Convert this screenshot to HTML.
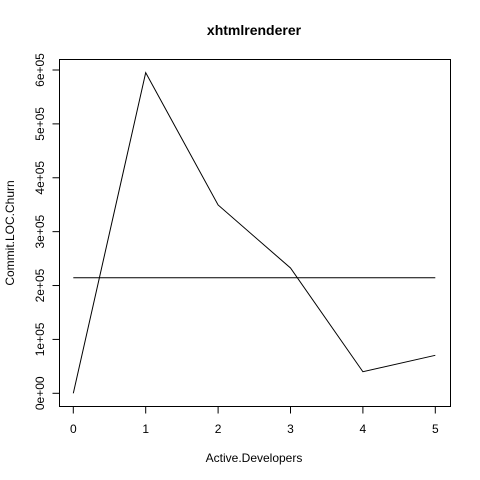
<!DOCTYPE html>
<html><head><meta charset="utf-8"><style>body{margin:0;background:#fff}svg{display:block}text{font-family:"Liberation Sans",sans-serif;fill:#000}</style></head>
<body>
<svg id="chart" width="480" height="480" xmlns="http://www.w3.org/2000/svg">
<rect width="480" height="480" fill="#fff"/>
<text x="254" y="35" text-anchor="middle" font-size="14" font-weight="bold">xhtmlrenderer</text>
<text x="254" y="462" text-anchor="middle" font-size="12">Active.Developers</text>
<text transform="translate(14,233) rotate(-90)" text-anchor="middle" font-size="12">Commit.LOC.Churn</text>
<rect x="59.5" y="59.5" width="391" height="347" fill="none" stroke="#000"/>
<g id="axes"></g>
<g id="marks"></g>
</svg>
<script>
const categories=[0,1,2,3,4,5];
const churn=[0,595000,349500,232500,40000,70500];
const yTicks=[0,100000,200000,300000,400000,500000,600000];
const yTickLabels=["0e+00","1e+05","2e+05","3e+05","4e+05","5e+05","6e+05"];
const meanValue=214500;
const NS="http://www.w3.org/2000/svg";
const xs=v=>73.3+v*72.4;
const ys=v=>393.3-v*(323.3/600000);
const axes=document.getElementById('axes'),marks=document.getElementById('marks');
function mk(tag,attrs,parent,txt){const e=document.createElementNS(NS,tag);for(const k in attrs)e.setAttribute(k,attrs[k]);if(txt!==undefined)e.textContent=txt;parent.appendChild(e);return e;}
categories.forEach(c=>{
 const t=mk('line',{x1:xs(c),x2:xs(c),y1:406.5,y2:413.5,stroke:'#000'},axes);
 
 
 const l=mk('text',{x:xs(c),y:433,'text-anchor':'middle','font-size':12},axes,String(c));
 
 
});
yTicks.forEach((v,i)=>{
 const t=mk('line',{x1:52.5,x2:59.5,y1:ys(v),y2:ys(v),stroke:'#000'},axes);
 
 
 const l=mk('text',{transform:`translate(44,${ys(v)}) rotate(-90)`,'text-anchor':'middle','font-size':12},axes,yTickLabels[i]);
 
 
});
const pts=categories.map((c,i)=>xs(c)+','+ys(churn[i])).join(' ');
const line=mk('polyline',{points:pts,fill:'none',stroke:'#000','stroke-width':1},marks);


const m=mk('line',{x1:xs(categories[0]),x2:xs(categories[categories.length-1]),y1:ys(meanValue),y2:ys(meanValue),stroke:'#000','stroke-width':1},marks);


</script>
</body></html>
